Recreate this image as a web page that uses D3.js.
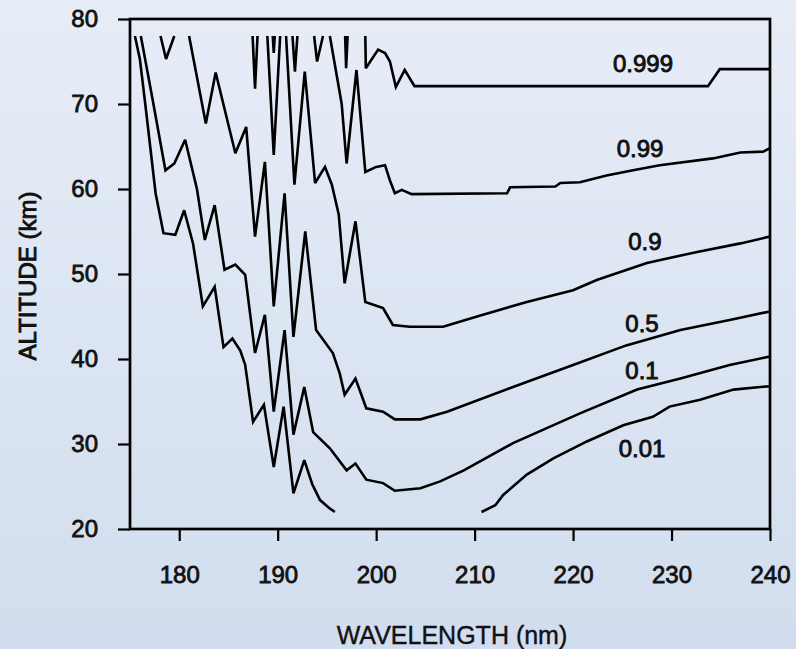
<!DOCTYPE html>
<html>
<head>
<meta charset="utf-8">
<script src="https://cdn.jsdelivr.net/npm/d3@7"></script>
<style>
  html, body { margin: 0; padding: 0; }
  body { width: 796px; height: 649px; overflow: hidden; }
  svg { display: block; }
  text { font-family: "Liberation Sans", Arial, Helvetica, sans-serif; fill: #111; }
</style>
</head>
<body>
<svg id="chart" width="796" height="649"></svg>
<script>
// Transmission contours: altitude (km) vs wavelength (nm). null = gap in a contour.
const levelNames = ["0.01", "0.1", "0.5", "0.9", "0.99", "0.999"];

const t001 = [
  [175.5, 78.0], [176.0, 75.3], [176.5, 70.5], [177.0, 65.5], [177.6, 59.5], [178.4, 54.8],
  [179.6, 54.6], [180.5, 57.5], [181.4, 53.6], [182.4, 46.2], [183.6, 48.5], [184.5, 41.4],
  [185.4, 42.4], [186.2, 41.0], [186.7, 39.3], [187.5, 32.6], [188.6, 34.6], [189.6, 27.3],
  [190.6, 34.4], [191.6, 24.2], [192.7, 28.1], [193.5, 25.3], [194.3, 23.4], [195.2, 22.5],
  [195.8, 22.0],
  null,
  [210.7, 22.0], [212.1, 22.8], [212.9, 24.0], [215.3, 26.4], [218.0, 28.3], [221.4, 30.3],
  [225.1, 32.2], [228.1, 33.2], [229.8, 34.4], [232.9, 35.2], [236.3, 36.4], [239.0, 36.7],
  [240.0, 36.8]
];

const t01 = [
  [176.1, 78.0], [177.3, 70.5], [178.6, 62.2], [179.5, 63.0], [180.6, 65.8], [181.8, 60.0],
  [182.6, 54.0], [183.6, 58.1], [184.6, 50.5], [185.7, 51.1], [186.7, 49.9], [187.7, 40.7],
  [188.7, 45.2], [189.6, 33.8], [190.7, 43.4], [191.6, 31.1], [192.7, 36.7], [193.6, 31.4],
  [195.3, 29.5], [197.0, 26.9], [197.9, 27.7], [199.0, 25.8], [200.7, 25.4], [201.9, 24.5],
  [204.5, 24.8], [206.5, 25.6], [208.9, 26.9], [213.9, 30.1], [220.7, 33.6], [226.5, 36.4],
  [230.9, 37.7], [235.9, 39.3], [240.0, 40.3]
];

const t05 = [
  [178.1, 78.0], [178.66, 75.3], [179.5, 78.0],
  null,
  [181.0, 78.0], [182.7, 67.7], [183.7, 73.7], [185.7, 64.2], [186.8, 67.3], [187.7, 54.4],
  [188.7, 63.2], [189.6, 46.2], [190.7, 59.5], [191.6, 42.6], [192.8, 55.0], [193.9, 43.4],
  [195.6, 40.7], [196.3, 38.3], [196.8, 35.8], [197.9, 37.7], [199.0, 34.2], [200.7, 33.8],
  [201.9, 32.9], [204.5, 32.9], [207.2, 33.8], [213.9, 36.7], [220.0, 39.3], [225.4, 41.6],
  [230.9, 43.4], [235.9, 44.6], [240.0, 45.6]
];

const t09 = [
  [187.45, 78.0], [187.7, 71.8], [187.95, 78.0],
  null,
  [188.95, 78.0], [189.6, 64.0], [190.25, 78.0],
  null,
  [190.85, 78.0], [191.7, 60.5], [192.75, 73.8], [193.8, 60.7], [194.8, 62.6], [195.5, 60.5],
  [196.2, 57.0], [196.8, 48.9], [197.9, 56.2], [198.9, 46.7], [200.7, 46.0], [201.7, 44.0],
  [203.4, 43.8], [206.8, 43.8], [210.5, 45.1], [215.3, 46.7], [220.0, 48.1], [222.4, 49.3],
  [227.5, 51.3], [232.6, 52.6], [237.0, 53.6], [240.0, 54.4]
];

const t099 = [
  [189.5, 78.0], [189.6, 76.0], [189.7, 78.0],
  null,
  [191.5, 78.0], [191.75, 73.8], [192.0, 78.0],
  null,
  [193.7, 78.0], [194.0, 75.0], [194.6, 78.0],
  null,
  [195.3, 78.0], [196.5, 70.0], [197.0, 63.0], [198.0, 74.0], [198.9, 62.0], [200.0, 62.6],
  [200.9, 62.8], [201.4, 61.0], [201.9, 59.5], [202.6, 59.9], [203.6, 59.4], [213.3, 59.5],
  [213.6, 60.2], [218.2, 60.3], [218.7, 60.7], [220.7, 60.8], [223.4, 61.6], [226.1, 62.2],
  [228.8, 62.8], [234.2, 63.6], [237.0, 64.3], [239.3, 64.4], [240.0, 64.8]
];

const t0999 = [
  [196.85, 78.0], [196.95, 74.2], [197.1, 78.0],
  null,
  [198.9, 78.0], [198.95, 74.2], [200.2, 76.4], [200.9, 76.0], [201.4, 75.0], [202.0, 72.0],
  [202.9, 74.0], [203.9, 72.1], [233.7, 72.1], [234.9, 74.1], [240.0, 74.1]
];

const contours = [t001, t01, t05, t09, t099, t0999];

// Label anchors (wavelength, altitude) for each contour value
const labelWl  = [227.0, 227.0, 227.0, 227.3, 226.8, 227.1];
const labelAlt = [29.5, 38.7, 44.2, 53.8, 64.8, 74.8];

const xTicks = [180, 190, 200, 210, 220, 230, 240];
const yTicks = [20, 30, 40, 50, 60, 70, 80];

const W = 796, H = 649;
const plot = { left: 130, right: 770, top: 19, bottom: 529 };

const svg = d3.select("#chart");

// page background
const defs = svg.append("defs");
const grad = defs.append("linearGradient")
  .attr("id", "bg").attr("x1", 0).attr("y1", 0).attr("x2", 0).attr("y2", 1);
grad.append("stop").attr("offset", "0%").attr("stop-color", "#e7edf7");
grad.append("stop").attr("offset", "100%").attr("stop-color", "#d1ddee");
svg.append("rect").attr("width", W).attr("height", H).attr("fill", "url(#bg)");

const x = d3.scaleLinear().domain([175, 240]).range([plot.left, plot.right]);
const y = d3.scaleLinear().domain([20, 80]).range([plot.bottom, plot.top]);

// contour lines
const line = d3.line()
  .defined(d => d !== null)
  .x(d => x(d[0]))
  .y(d => y(d[1]));

svg.append("g")
  .selectAll("path")
  .data(contours)
  .join("path")
  .attr("d", line)
  .attr("fill", "none")
  .attr("stroke", "#000")
  .attr("stroke-width", 2.6)
  .attr("stroke-linejoin", "miter")
  .attr("stroke-miterlimit", 3);

// axes
const xAxis = d3.axisBottom(x).tickValues(xTicks).tickSize(12).tickPadding(25).tickFormat(d3.format("d"));
const yAxis = d3.axisLeft(y).tickValues(yTicks).tickSize(12).tickPadding(20).tickFormat(d3.format("d"));

const gx = svg.append("g").attr("transform", `translate(0,${plot.bottom})`).call(xAxis);
const gy = svg.append("g").attr("transform", `translate(${plot.left},0)`).call(yAxis);

[gx, gy].forEach(g => {
  g.select(".domain").remove();
  g.selectAll(".tick line").attr("stroke", "#000").attr("stroke-width", 2.2);
  g.selectAll(".tick text")
    .attr("font-family", "Liberation Sans, Arial, sans-serif")
    .attr("font-size", 24)
    .attr("fill", "#111")
    .attr("stroke", "#111")
    .attr("stroke-width", 0.8);
});

// frame
svg.append("rect")
  .attr("x", plot.left).attr("y", plot.top)
  .attr("width", plot.right - plot.left).attr("height", plot.bottom - plot.top)
  .attr("fill", "none").attr("stroke", "#000").attr("stroke-width", 2.7);

// contour labels
svg.append("g")
  .selectAll("text")
  .data(levelNames)
  .join("text")
  .attr("x", (d, i) => x(labelWl[i]))
  .attr("y", (d, i) => y(labelAlt[i]))
  .attr("text-anchor", "middle")
  .attr("dominant-baseline", "central")
  .attr("font-size", 24)
  .attr("stroke", "#111")
  .attr("stroke-width", 0.9)
  .text(d => d);

// axis titles
svg.append("text")
  .attr("x", 452)
  .attr("y", 644)
  .attr("text-anchor", "middle")
  .attr("font-size", 25)
  .attr("stroke", "#111")
  .attr("stroke-width", 0.4)
  .text("WAVELENGTH (nm)");

svg.append("text")
  .attr("transform", `translate(36,${(plot.top + plot.bottom) / 2 + 2}) rotate(-90)`)
  .attr("text-anchor", "middle")
  .attr("font-size", 24)
  .attr("stroke", "#111")
  .attr("stroke-width", 0.9)
  .text("ALTITUDE (km)");
</script>
</body>
</html>
